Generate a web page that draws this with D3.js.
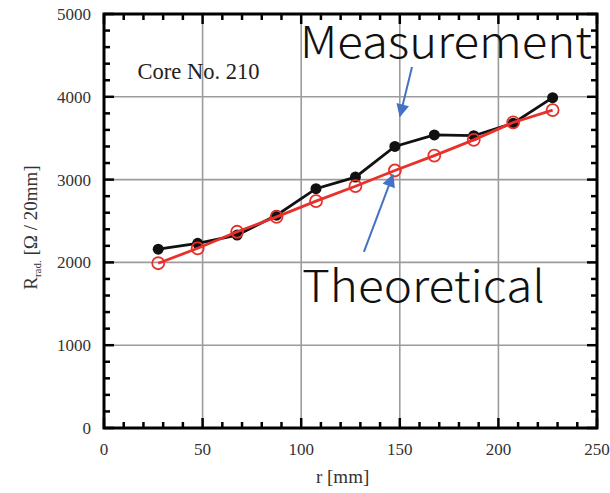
<!DOCTYPE html>
<html>
<head>
<meta charset="utf-8">
<script src="https://cdn.jsdelivr.net/npm/d3@7"></script>
<style>
  body { margin: 0; background: #fff; }
  .tick-label { font-family: "Liberation Serif", "Times New Roman", serif; font-size: 17px; fill: #333; }
  .axis-title { font-family: "Liberation Serif", "Times New Roman", serif; font-size: 19px; fill: #333; }
  .big-label { font-family: "Noto Sans CJK JP", "Noto Sans", sans-serif; font-size: 44px; font-weight: 300; fill: #111; }
</style>
</head>
<body>
<div id="chart"></div>
<script>
var canvas_width = 610,
    canvas_height = 493;

// data
var radius = [27.5, 47.5, 67.5, 87.5, 107.5, 127.5, 147.5, 167.5, 187.5, 207.5, 227.5];
var measurement = [2160, 2230, 2330, 2570, 2890, 3030, 3400, 3540, 3530, 3680, 3990];
var theoretical = [1990, 2170, 2370, 2550, 2740, 2920, 3110, 3290, 3480, 3690, 3840];
var xTicks = [0, 50, 100, 150, 200, 250];
var yTicks = [0, 1000, 2000, 3000, 4000, 5000];

var margin = { top: 14, right: 13, bottom: 65, left: 104 };
var width = canvas_width - margin.left - margin.right;
var height = canvas_height - margin.top - margin.bottom;

var svg = d3.select("#chart")
    .append("svg")
    .attr("width", canvas_width)
    .attr("height", canvas_height);

var xScale = d3.scaleLinear().domain([0, 250]).range([0, width]);
var yScale = d3.scaleLinear().domain([0, 5000]).range([height, 0]);

var g = svg.append("g")
    .attr("transform", "translate(" + margin.left + "," + margin.top + ")");

// grid
g.selectAll(".vgrid")
    .data(xTicks.slice(1, -1))
    .enter()
    .append("line")
    .attr("x1", d => xScale(d)).attr("x2", d => xScale(d))
    .attr("y1", 0).attr("y2", height)
    .attr("stroke", "#9c9c9c").attr("stroke-width", 1.6);

g.selectAll(".hgrid")
    .data(yTicks.slice(1, -1))
    .enter()
    .append("line")
    .attr("y1", d => yScale(d)).attr("y2", d => yScale(d))
    .attr("x1", 0).attr("x2", width)
    .attr("stroke", "#9c9c9c").attr("stroke-width", 1.6);

// ticks pointing inward, on all four sides
var xMinor = d3.range(0, 251, 10);
var yMinor = d3.range(0, 5001, 200);

function tickLen(major) { return major ? 10 : 6; }

g.selectAll(".xtick")
    .data(xMinor)
    .enter()
    .each(function (d) {
        var major = d % 50 === 0;
        var sel = d3.select(this);
        sel.append("line")
            .attr("x1", xScale(d)).attr("x2", xScale(d))
            .attr("y1", height).attr("y2", height - tickLen(major))
            .attr("stroke", "#000").attr("stroke-width", 2.5);
        sel.append("line")
            .attr("x1", xScale(d)).attr("x2", xScale(d))
            .attr("y1", 0).attr("y2", tickLen(major))
            .attr("stroke", "#000").attr("stroke-width", 2.5);
    });

g.selectAll(".ytick")
    .data(yMinor)
    .enter()
    .each(function (d) {
        var major = d % 1000 === 0;
        var sel = d3.select(this);
        sel.append("line")
            .attr("y1", yScale(d)).attr("y2", yScale(d))
            .attr("x1", 0).attr("x2", tickLen(major))
            .attr("stroke", "#000").attr("stroke-width", 2.5);
        sel.append("line")
            .attr("y1", yScale(d)).attr("y2", yScale(d))
            .attr("x1", width).attr("x2", width - tickLen(major))
            .attr("stroke", "#000").attr("stroke-width", 2.5);
    });

// frame
g.append("rect")
    .attr("x", 0).attr("y", 0)
    .attr("width", width).attr("height", height)
    .attr("fill", "none")
    .attr("stroke", "#000")
    .attr("stroke-width", 3);

// tick labels
g.selectAll(".xlabel")
    .data(xTicks)
    .enter()
    .append("text")
    .attr("class", "tick-label")
    .attr("x", d => xScale(d))
    .attr("y", height + 27)
    .attr("text-anchor", "middle")
    .text(d => d);

g.selectAll(".ylabel")
    .data(yTicks)
    .enter()
    .append("text")
    .attr("class", "tick-label")
    .attr("x", -13)
    .attr("y", d => yScale(d))
    .attr("dy", "0.35em")
    .attr("text-anchor", "end")
    .text(d => d);

// axis titles
svg.append("text")
    .attr("class", "axis-title")
    .attr("x", margin.left + xScale(121))
    .attr("y", 483)
    .attr("text-anchor", "middle")
    .text("r [mm]");

var yTitle = svg.append("text")
    .attr("class", "axis-title")
    .attr("transform", "translate(37," + (margin.top + yScale(2420)) + ") rotate(-90)")
    .attr("text-anchor", "middle");
yTitle.append("tspan").text("R");
yTitle.append("tspan").attr("font-size", "11px").attr("dy", "4").text("rad.");
yTitle.append("tspan").attr("dy", "-4").text(" [Ω / 20mm]");

g.append("text")
    .attr("x", xScale(17))
    .attr("y", yScale(4220))
    .attr("font-family", "Liberation Serif, Times New Roman, serif")
    .attr("font-size", "22.5px")
    .attr("fill", "#222")
    .text("Core No. 210");

// series
var measPoints = radius.map((r, i) => ({ r: r, v: measurement[i] }));
var theoPoints = radius.map((r, i) => ({ r: r, v: theoretical[i] }));

var line = d3.line()
    .x(d => xScale(d.r))
    .y(d => yScale(d.v));

g.append("path")
    .datum(measPoints)
    .attr("fill", "none")
    .attr("stroke", "#111")
    .attr("stroke-width", 2.8)
    .attr("d", line);

g.selectAll(".meas")
    .data(measPoints)
    .enter()
    .append("circle")
    .attr("cx", d => xScale(d.r))
    .attr("cy", d => yScale(d.v))
    .attr("r", 5.5)
    .attr("fill", "#111");

g.append("path")
    .datum(theoPoints)
    .attr("fill", "none")
    .attr("stroke", "#e8312b")
    .attr("stroke-width", 2.8)
    .attr("d", line);

g.selectAll(".theo")
    .data(theoPoints)
    .enter()
    .append("circle")
    .attr("cx", d => xScale(d.r))
    .attr("cy", d => yScale(d.v))
    .attr("r", 6)
    .attr("fill", "none")
    .attr("stroke", "#e8312b")
    .attr("stroke-width", 1.8);

// annotations: big labels and blue arrows (data units)
var labels = ["Measurement", "Theoretical"];
var labelX = [99.4, 100.4];
var labelY = [4469, 1522];
var labelW = [292, 243];

g.selectAll(".big")
    .data(labels)
    .enter()
    .append("text")
    .attr("class", "big-label")
    .attr("x", (d, i) => xScale(labelX[i]))
    .attr("y", (d, i) => yScale(labelY[i]))
    .attr("textLength", (d, i) => labelW[i])
    .attr("lengthAdjust", "spacingAndGlyphs")
    .text(d => d);

var arrowFrom = [[156.2, 4360], [131.8, 2126]];
var arrowTo = [[150.1, 3768], [146.5, 3056]];

svg.append("defs")
    .append("marker")
    .attr("id", "head")
    .attr("viewBox", "0 0 10 10")
    .attr("refX", 9).attr("refY", 5)
    .attr("markerWidth", 7).attr("markerHeight", 6.5)
    .attr("markerUnits", "strokeWidth")
    .attr("orient", "auto")
    .append("path")
    .attr("d", "M0,0 L10,5 L0,10 z")
    .attr("fill", "#4472c4");

g.selectAll(".arrow")
    .data(arrowFrom)
    .enter()
    .append("line")
    .attr("x1", d => xScale(d[0]))
    .attr("y1", d => yScale(d[1]))
    .attr("x2", (d, i) => xScale(arrowTo[i][0]))
    .attr("y2", (d, i) => yScale(arrowTo[i][1]))
    .attr("stroke", "#4472c4")
    .attr("stroke-width", 2)
    .attr("marker-end", "url(#head)");
</script>
</body>
</html>
